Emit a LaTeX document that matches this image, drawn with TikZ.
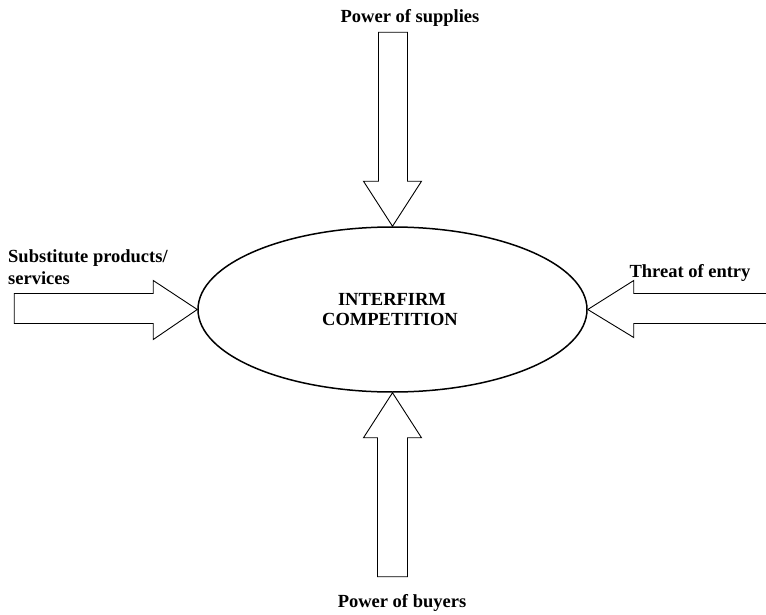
\documentclass[tikz,border=0pt]{standalone}
\usepackage{fontspec}
\setmainfont{Liberation Serif}
\usetikzlibrary{shapes.geometric}
\begin{document}
\begin{tikzpicture}[x=1pt,y=-1pt,
  blockarrow/.style={draw=black,line width=0.9pt,fill=white,line join=miter},
  lbl/.style={font=\bfseries\fontsize{18.5}{20}\selectfont,inner sep=0pt,align=left}]
\useasboundingbox (0,0) rectangle (766,615);
\node[ellipse,draw,line width=1.5pt,minimum width=389pt,minimum height=165pt,inner sep=0pt] (comp) at (392.5,309.5) {};
\node[lbl,anchor=base] (ctext1) at (392,305) {INTERFIRM};
\node[lbl,anchor=base] (ctext2) at (390,325) {COMPETITION};
% top arrow
\draw[blockarrow] (comp.north) -- ++(-29,-45) -- ++(15,0) -- ++(0,-149) -- ++(29,0) -- ++(0,149) -- ++(14,0) -- cycle;
\node[lbl,anchor=base] (top) at (410,23) {Power of supplies};
% bottom arrow
\draw[blockarrow] (comp.south) -- ++(-29,45) -- ++(14,0) -- ++(0,139) -- ++(30,0) -- ++(0,-139) -- ++(14,0) -- cycle;
\node[lbl,anchor=base] (bottom) at (402,607) {Power of buyers};
% left arrow
\draw[blockarrow] (comp.west) -- ++(-44,-29) -- ++(0,13) -- ++(-139,0) -- ++(0,30) -- ++(139,0) -- ++(0,16) -- cycle;
\node[lbl,anchor=base west] (left1) at (8,262) {Substitute products/};
\node[lbl,anchor=base west] (left2) at (8,284) {services};
% right arrow
\draw[blockarrow] (comp.east) -- ++(46,-29) -- ++(0,13) -- ++(140,0) (comp.east) -- ++(46,28) -- ++(0,-14) -- ++(140,0);
\node[lbl,anchor=base] (right) at (690,277) {Threat of entry};
\end{tikzpicture}
\end{document}
